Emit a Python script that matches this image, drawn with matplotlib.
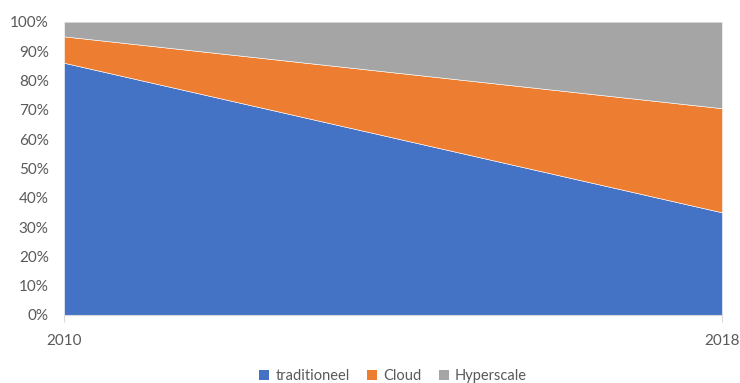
import matplotlib.pyplot as plt
from matplotlib.patches import Patch
from matplotlib.ticker import PercentFormatter

plt.rcParams['font.family'] = ['Lato', 'DejaVu Sans']

years = [2010, 2018]
traditioneel = [86, 35]
cloud = [9, 35.5]
hyperscale = [5, 29.5]

labels = ['traditioneel', 'Cloud', 'Hyperscale']
colors = ['#4472C4', '#ED7D31', '#A5A5A5']
text_col = '#595959'

fig = plt.figure(figsize=(7.4, 3.83), dpi=100)
ax = fig.add_axes([64 / 740, 1 - 315 / 383, (722 - 64) / 740, (315 - 21.7) / 383])

ax.stackplot(years, traditioneel, cloud, hyperscale, colors=colors,
             edgecolor='white', linewidth=0.4)

ax.set_xlim(2010, 2018)
ax.set_ylim(0, 100)
ax.set_yticks(range(0, 101, 10))
ax.yaxis.set_major_formatter(PercentFormatter(decimals=0))
ax.set_xticks(years)
ax.axhline(100, color='#D9D9D9', lw=0.8, zorder=0)

for s in ['top', 'right', 'left']:
    ax.spines[s].set_visible(False)
ax.spines['bottom'].set_color('#D9D9D9')
ax.tick_params(axis='y', length=0, labelsize=11, colors=text_col, pad=11)
ax.tick_params(axis='x', length=5, color='#D9D9D9', labelsize=11,
               labelcolor=text_col, pad=9)

handles = [Patch(facecolor=c, label=l) for c, l in zip(colors, labels)]
fig.legend(handles=handles, loc='center', bbox_to_anchor=(393 / 740, 1 - 376 / 383),
           ncol=3, frameon=False, fontsize=10.5, labelcolor=text_col,
           handlelength=0.7, handleheight=0.7, handletextpad=0.4, columnspacing=1.2)

fig.savefig('out.png', dpi=100)
